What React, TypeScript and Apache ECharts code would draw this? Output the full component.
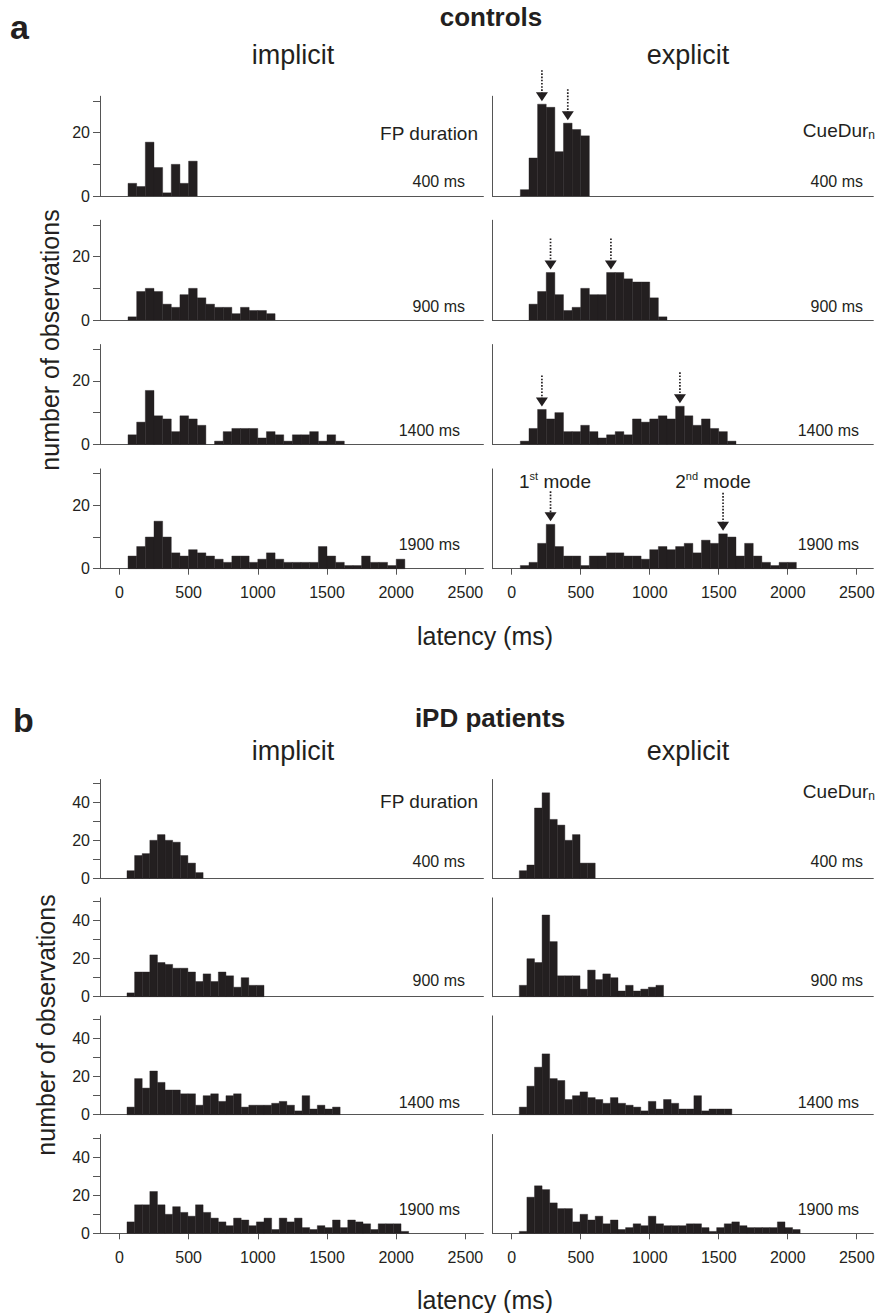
import React, { useEffect, useRef } from 'react';
import * as echarts from 'echarts';

// ---------- data ----------
// bin widths (ms) of the histograms; counts are per bin starting at 0 ms
const BIN_A = 62.5;
const BIN_B = 55;

const fpLabels = ['400 ms', '900 ms', '1400 ms', '1900 ms'];
const xTickValues = [0, 500, 1000, 1500, 2000, 2500];
const yTicksA = [0, 10, 20, 30];
const yLabelsA = [0, 20];
const yTicksB = [0, 10, 20, 30, 40, 50];
const yLabelsB = [0, 20, 40];

// a: controls
const ctrlImp400 = [0, 4, 3, 17, 9, 1, 10, 4, 11];
const ctrlImp900 = [0, 1, 9, 10, 9, 5, 4, 8, 10, 7, 5, 4, 4, 2, 4, 3, 3, 2];
const ctrlImp1400 = [0, 3, 7, 17, 9, 8, 4, 9, 8, 6, 0, 1, 4, 5, 5, 5, 2, 4, 3, 1, 3, 3, 4, 1, 3, 1];
const ctrlImp1900 = [0, 4, 7, 10, 15, 10, 5, 4, 6, 5, 4, 3, 2, 4, 4, 2, 3, 5, 3, 2, 2, 2, 2, 7, 4, 2, 1, 1, 4, 2, 2, 1, 3];
const ctrlExp400 = [0, 2, 12, 29, 28, 14, 23, 21, 19];
const ctrlExp900 = [0, 0, 5, 9, 15, 8, 3, 4, 10, 8, 8, 15, 15, 13, 12, 12, 7, 1];
const ctrlExp1400 = [0, 1, 5, 11, 8, 10, 4, 4, 6, 4, 2, 3, 4, 3, 8, 7, 8, 9, 8, 12, 9, 6, 8, 5, 4, 1];
const ctrlExp1900 = [0, 1, 2, 8, 14, 7, 4, 4, 1, 4, 4, 5, 5, 4, 4, 3, 6, 7, 6, 7, 8, 5, 9, 8, 11, 10, 4, 8, 4, 2, 1, 2, 2];

// b: iPD patients
const ipdImp400 = [0, 4, 12, 13, 20, 23, 20, 19, 12, 8, 3];
const ipdImp900 = [0, 2, 13, 13, 22, 18, 17, 15, 15, 13, 8, 12, 8, 13, 11, 5, 10, 6, 6];
const ipdImp1400 = [0, 4, 19, 14, 23, 17, 13, 13, 11, 11, 5, 10, 11, 7, 10, 11, 4, 5, 5, 5, 6, 7, 5, 2, 10, 3, 5, 3, 4];
const ipdImp1900 = [0, 6, 15, 15, 22, 15, 10, 14, 11, 9, 15, 11, 8, 6, 4, 8, 7, 4, 6, 8, 2, 8, 6, 8, 3, 2, 4, 3, 7, 3, 7, 6, 5, 2, 5, 5, 5, 1];
const ipdExp400 = [0, 4, 7, 37, 45, 31, 28, 20, 23, 8, 8];
const ipdExp900 = [0, 6, 20, 18, 43, 29, 11, 11, 11, 4, 14, 9, 12, 10, 3, 6, 3, 4, 5, 6];
const ipdExp1400 = [0, 4, 15, 25, 32, 19, 18, 8, 10, 12, 9, 8, 6, 9, 6, 5, 4, 2, 7, 3, 8, 6, 3, 3, 10, 2, 3, 3, 3];
const ipdExp1900 = [0, 1, 19, 25, 23, 16, 13, 13, 6, 10, 7, 9, 5, 7, 2, 3, 5, 4, 9, 5, 4, 4, 4, 5, 5, 3, 1, 3, 5, 6, 4, 3, 3, 3, 3, 6, 3, 2];

// mode arrows (bin indices) for controls / explicit, per row
const ctrlExpModeBins = [[3, 6], [4, 11], [3, 19], [4, 24]];

// ---------- style / layout ----------
const FONT = "'Liberation Sans', Arial, Helvetica, sans-serif";
const INK = '#231f20';
const AXIS = '#555555';
const TICK_FONT = 16;
const arrowLen = [[31, 31], [31, 31], [31, 31], [30, 38]];

const colGeom = [
  { left: 100, width: 383.4, max: 2630 },
  { left: 492.4, width: 380.9, max: 2620 },
];
const X_MIN = -140;

const blocks = [
  {
    cols: [[ctrlImp400, ctrlImp900, ctrlImp1400, ctrlImp1900], [ctrlExp400, ctrlExp900, ctrlExp1400, ctrlExp1900]],
    bin: BIN_A,
    baselines: [196, 320, 444.3, 568.7],
    yMax: 31.5,
    pxPerUnit: 3.167,
    yTicks: yTicksA,
    yLabels: yLabelsA,
    labelOffsets: [15, 14, 14, 24.5],
  },
  {
    cols: [[ipdImp400, ipdImp900, ipdImp1400, ipdImp1900], [ipdExp400, ipdExp900, ipdExp1400, ipdExp1900]],
    bin: BIN_B,
    baselines: [878.3, 996.7, 1114.7, 1233.3],
    yMax: 52,
    pxPerUnit: 1.9,
    yTicks: yTicksB,
    yLabels: yLabelsB,
    labelOffsets: [17, 16, 12.5, 24],
  },
];
const labelRight = [[465, 465, 460, 460], [863, 863, 859, 859]];

function txt(text: string, x: number, y: number, size: number, opts: any = {}) {
  const align = opts.align || 'center';
  return {
    type: 'text',
    x,
    y,
    rotation: opts.rotation || 0,
    silent: true,
    style: {
      text,
      x: 0,
      y: 0,
      fill: INK,
      fontSize: size,
      fontFamily: FONT,
      fontWeight: opts.bold ? 'bold' : 'normal',
      align,
      textAlign: align,
      verticalAlign: 'middle',
      textVerticalAlign: 'middle',
      rich: opts.rich,
    },
  };
}

const plain = (v: number) => String(v);

function buildOption() {
  const grid: any[] = [];
  const xAxis: any[] = [];
  const yAxis: any[] = [];
  const series: any[] = [];
  const graphic: any[] = [];
  let k = 0;

  blocks.forEach((blk, bi) => {
    const height = blk.yMax * blk.pxPerUnit;
    blk.cols.forEach((rows, ci) => {
      rows.forEach((counts, ri) => {
        const g = colGeom[ci];
        const isBottom = ri === 3;
        grid.push({
          left: g.left,
          width: g.width,
          top: blk.baselines[ri] - height,
          height,
          outerBoundsMode: 'none',
          containLabel: false,
        });
        xAxis.push({
          type: 'value',
          gridIndex: k,
          min: X_MIN,
          max: g.max,
          axisLine: { show: true, onZero: false, lineStyle: { color: AXIS, width: 1 } },
          axisTick: {
            show: isBottom,
            customValues: xTickValues,
            length: 6,
            lineStyle: { color: AXIS, width: 1 },
          },
          axisLabel: {
            show: isBottom,
            customValues: xTickValues,
            formatter: plain,
            fontSize: TICK_FONT,
            fontFamily: FONT,
            color: INK,
            margin: 16,
          },
          splitLine: { show: false },
        });
        yAxis.push({
          type: 'value',
          gridIndex: k,
          min: 0,
          max: blk.yMax,
          axisLine: { show: true, onZero: false, lineStyle: { color: AXIS, width: 1 } },
          axisTick: {
            show: ci === 0,
            customValues: blk.yTicks,
            length: 7,
            lineStyle: { color: AXIS, width: 1 },
          },
          axisLabel: {
            show: ci === 0,
            customValues: blk.yLabels,
            formatter: plain,
            fontSize: TICK_FONT,
            fontFamily: FONT,
            color: INK,
            margin: 10,
          },
          splitLine: { show: false },
        });
        const data = counts
          .map((c, i) => [i * blk.bin, (i + 1) * blk.bin, c])
          .filter((d) => d[2] > 0);
        series.push({
          type: 'custom',
          xAxisIndex: k,
          yAxisIndex: k,
          clip: false,
          encode: { x: [0, 1], y: 2 },
          data,
          renderItem: (params: any, api: any) => {
            const s = api.coord([api.value(0), 0]);
            const e = api.coord([api.value(1), api.value(2)]);
            return {
              type: 'rect',
              shape: { x: s[0], y: e[1], width: e[0] - s[0], height: s[1] - e[1] },
              style: { fill: INK, stroke: INK, lineWidth: 0.4 },
            };
          },
        });
        if (bi === 0 && ci === 1) {
          const bins = ctrlExpModeBins[ri];
          const adata = bins.map((b, j) => [(b + 0.5) * blk.bin, counts[b], arrowLen[ri][j]]);
          series.push({
            type: 'custom',
            xAxisIndex: k,
            yAxisIndex: k,
            clip: false,
            encode: { x: 0, y: 1 },
            data: adata,
            z: 5,
            renderItem: (params: any, api: any) => {
              const p = api.coord([api.value(0), api.value(1)]);
              const len = api.value(2);
              const tip = p[1] - 3;
              const hh = 9;
              const hw = 12;
              return {
                type: 'group',
                children: [
                  {
                    type: 'line',
                    shape: { x1: p[0], y1: tip - len, x2: p[0], y2: tip - hh + 1 },
                    style: { stroke: INK, lineWidth: 1.7, lineDash: [1.6, 1.6] },
                  },
                  {
                    type: 'polygon',
                    shape: { points: [[p[0] - hw / 2, tip - hh], [p[0] + hw / 2, tip - hh], [p[0], tip]] },
                    style: { fill: INK },
                  },
                ],
              };
            },
          });
        }
        // FP duration label inside panel
        graphic.push(
          txt(fpLabels[ri], labelRight[ci][ri], blk.baselines[ri] - blk.labelOffsets[ri], 16, { align: 'right' })
        );
        k++;
      });
    });
  });

  const cueRich = {
    m: { fontSize: 19, fontFamily: FONT, fill: INK, lineHeight: 22, verticalAlign: 'middle' },
    s: { fontSize: 12, fontFamily: FONT, fill: INK, lineHeight: 12, verticalAlign: 'bottom' },
  };
  const modeRich = {
    m: { fontSize: 19, fontFamily: FONT, fill: INK, lineHeight: 22, verticalAlign: 'middle' },
    s: { fontSize: 11, fontFamily: FONT, fill: INK, lineHeight: 12, verticalAlign: 'top' },
  };

  // headings and annotations
  graphic.push(txt('a', 10, 27, 34, { bold: true, align: 'left' }));
  graphic.push(txt('controls', 491, 17, 26, { bold: true }));
  graphic.push(txt('implicit', 293, 54.5, 27));
  graphic.push(txt('explicit', 688, 54.5, 27));
  graphic.push(txt('FP duration', 478, 133.3, 19, { align: 'right' }));
  graphic.push(txt('{m|CueDur}{s|n}', 875, 130, 19, { align: 'right', rich: cueRich }));
  graphic.push(txt('{m|1}{s|st}{m| mode}', 555, 481, 19, { rich: modeRich }));
  graphic.push(txt('{m|2}{s|nd}{m| mode}', 713, 481, 19, { rich: modeRich }));
  graphic.push(txt('latency (ms)', 485, 636, 25));
  graphic.push(txt('number of observations', 50, 340, 25, { rotation: Math.PI / 2 }));

  graphic.push(txt('b', 13, 720, 34, { bold: true, align: 'left' }));
  graphic.push(txt('iPD patients', 490, 718, 26, { bold: true }));
  graphic.push(txt('implicit', 293, 751, 27));
  graphic.push(txt('explicit', 688, 751, 27));
  graphic.push(txt('FP duration', 478, 801.5, 19, { align: 'right' }));
  graphic.push(txt('{m|CueDur}{s|n}', 875, 791, 19, { align: 'right', rich: cueRich }));
  graphic.push(txt('latency (ms)', 485, 1300, 25));
  graphic.push(txt('number of observations', 46, 1025, 25, { rotation: Math.PI / 2 }));

  return {
    animation: false,
    backgroundColor: '#ffffff',
    textStyle: { fontFamily: FONT },
    grid,
    xAxis,
    yAxis,
    series,
    graphic: { elements: graphic },
  };
}

export default function App() {
  const ref = useRef<HTMLDivElement>(null);
  useEffect(() => {
    if (!ref.current) return;
    const chart = echarts.init(ref.current, undefined, { renderer: 'svg', width: 881, height: 1313 });
    chart.setOption(buildOption() as any);
    return () => {
      chart.dispose();
    };
  }, []);
  return (
    <div
      ref={ref}
      style={{ position: 'absolute', left: 0, top: 0, width: 881, height: 1313, background: '#ffffff' }}
    />
  );
}
